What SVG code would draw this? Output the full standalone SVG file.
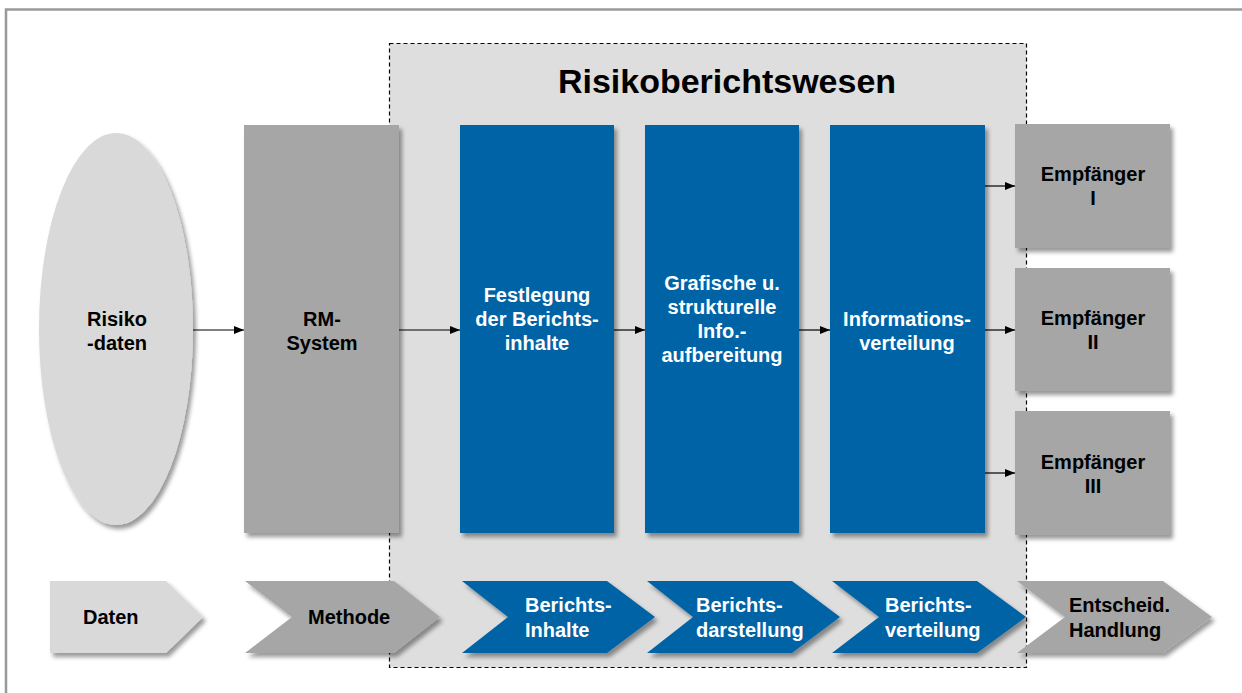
<svg xmlns="http://www.w3.org/2000/svg" width="1242" height="693" viewBox="0 0 1242 693">
<defs>
<filter id="sh" x="-10%" y="-10%" width="130%" height="130%">
<feDropShadow dx="3" dy="4" stdDeviation="2" flood-color="#000" flood-opacity="0.4"/>
</filter>
<marker id="ah" markerWidth="10" markerHeight="8" refX="10" refY="4" orient="auto" markerUnits="userSpaceOnUse">
<path d="M0,0 L10,4 L0,8 Z" fill="#000"/>
</marker>
</defs>
<style>
text{font-family:"Liberation Sans",Arial,sans-serif;font-weight:bold;font-size:20px}
.dk{fill:#000}
.wh{fill:#fff}
.c{text-anchor:middle}
.lg{fill:#d9d9d9}
.gr{fill:#a6a6a6}
.bl{fill:#0563a6}
.conn line{stroke:#000;stroke-width:1.2;marker-end:url(#ah)}
</style>
<rect x="0" y="0" width="1242" height="693" fill="#fff"/>
<path d="M6,693 V9.5 H1242" fill="none" stroke="#999" stroke-width="2.5"/>

<g id="risikoberichtswesen">
<rect x="389.5" y="43.5" width="637" height="624" fill="#dedede" stroke="#000" stroke-width="1.2" stroke-dasharray="4,3"/>
<text x="727" y="93" class="dk c" style="font-size:34px">Risikoberichtswesen</text>
</g>

<g id="risikodaten">
<ellipse cx="116" cy="329" rx="77" ry="196" class="lg" filter="url(#sh)"/>
<text x="117" y="326" class="dk c">Risiko</text>
<text x="117" y="350" class="dk c">-daten</text>
</g>

<g id="rm-system">
<rect x="244" y="125" width="155" height="408" class="gr" filter="url(#sh)"/>
<text x="322" y="326" class="dk c">RM-</text>
<text x="322" y="350" class="dk c">System</text>
</g>

<g id="festlegung">
<rect x="460" y="125" width="154" height="408" class="bl" filter="url(#sh)"/>
<text x="537" y="302" class="wh c">Festlegung</text>
<text x="537" y="326" class="wh c">der Berichts-</text>
<text x="537" y="350" class="wh c">inhalte</text>
</g>

<g id="grafische">
<rect x="645" y="125" width="154" height="408" class="bl" filter="url(#sh)"/>
<text x="722" y="290" class="wh c">Grafische u.</text>
<text x="722" y="314" class="wh c">strukturelle</text>
<text x="722" y="338" class="wh c">Info.-</text>
<text x="722" y="362" class="wh c">aufbereitung</text>
</g>

<g id="informationsverteilung">
<rect x="830" y="125" width="155" height="408" class="bl" filter="url(#sh)"/>
<text x="907" y="326" class="wh c">Informations-</text>
<text x="907" y="350" class="wh c">verteilung</text>
</g>

<g id="empfaenger1">
<rect x="1015" y="124" width="155" height="124" class="gr" filter="url(#sh)"/>
<text x="1093" y="181" class="dk c">Empfänger</text>
<text x="1093" y="205" class="dk c">I</text>
</g>

<g id="empfaenger2">
<rect x="1015" y="268" width="155" height="123" class="gr" filter="url(#sh)"/>
<text x="1093" y="325" class="dk c">Empfänger</text>
<text x="1093" y="349" class="dk c">II</text>
</g>

<g id="empfaenger3">
<rect x="1015" y="411" width="155" height="124" class="gr" filter="url(#sh)"/>
<text x="1093" y="469" class="dk c">Empfänger</text>
<text x="1093" y="493" class="dk c">III</text>
</g>

<g id="chev-daten">
<path d="M50,581 H166 L203,617 L166,653 H50 Z" class="lg" filter="url(#sh)"/>
<text x="83" y="624" class="dk">Daten</text>
</g>

<g id="chev-methode">
<path d="M245,581 H394 L440,617 L394,653 H245 L292,617 Z" class="gr" filter="url(#sh)"/>
<text x="308" y="624" class="dk">Methode</text>
</g>

<g id="chev-inhalte">
<path d="M462,581 H607 L655,617 L607,653 H462 L508,617 Z" class="bl" filter="url(#sh)"/>
<text x="525" y="612" class="wh">Berichts-</text>
<text x="525" y="637" class="wh">Inhalte</text>
</g>

<g id="chev-darstellung">
<path d="M647,581 H792 L840,617 L792,653 H647 L693,617 Z" class="bl" filter="url(#sh)"/>
<text x="696" y="612" class="wh">Berichts-</text>
<text x="696" y="637" class="wh">darstellung</text>
</g>

<g id="chev-verteilung">
<path d="M832,581 H977 L1026,617 L977,653 H832 L879,617 Z" class="bl" filter="url(#sh)"/>
<text x="885" y="612" class="wh">Berichts-</text>
<text x="885" y="637" class="wh">verteilung</text>
</g>

<g id="chev-entscheid">
<path d="M1017,581 H1163 L1212,617 L1163,653 H1017 L1065,617 Z" class="gr" filter="url(#sh)"/>
<text x="1069" y="612" class="dk">Entscheid.</text>
<text x="1069" y="637" class="dk">Handlung</text>
</g>

<g class="conn" id="connectors">
<line x1="193" y1="330" x2="244" y2="330"/>
<line x1="399" y1="330" x2="460" y2="330"/>
<line x1="614" y1="330" x2="645" y2="330"/>
<line x1="799" y1="330" x2="830" y2="330"/>
<line x1="985" y1="186" x2="1015" y2="186"/>
<line x1="985" y1="330" x2="1015" y2="330"/>
<line x1="985" y1="473" x2="1015" y2="473"/>
</g>
</svg>
